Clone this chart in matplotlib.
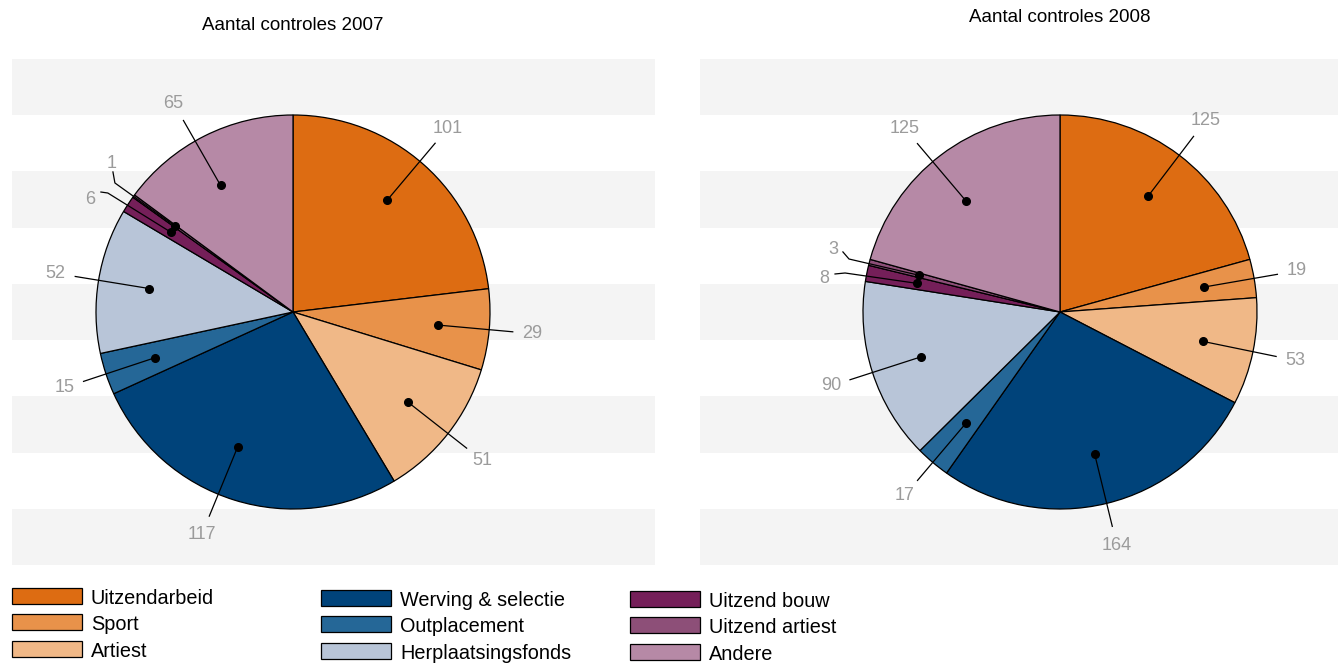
import numpy as np
import matplotlib.pyplot as plt
from matplotlib.patches import Rectangle

plt.rcParams['font.family'] = ['Liberation Sans', 'DejaVu Sans']

# data
categories = ['Uitzendarbeid', 'Sport', 'Artiest',
              'Werving & selectie', 'Outplacement', 'Herplaatsingsfonds',
              'Uitzend bouw', 'Uitzend artiest', 'Andere']
colors = ['#dd6c12', '#e8924a', '#f0b887',
          '#00437a', '#256797', '#b8c5d8',
          '#751f59', '#8d4f78', '#b689a6']
counts_2007 = [101, 29, 51, 117, 15, 52, 6, 1, 65]
counts_2008 = [125, 19, 53, 164, 17, 90, 8, 3, 125]
titles = ['Aantal controles 2007', 'Aantal controles 2008']

# label layout for the thin slices: index -> (elbow, stub end, text) in radius units
bent_2007 = {6: ((-0.940, 0.604), (-0.975, 0.609), (-1.03, 0.57)),
             7: ((-0.904, 0.655), (-0.914, 0.711), (-0.919, 0.756))}
bent_2008 = {6: ((-1.091, 0.198), (-1.142, 0.193), (-1.198, 0.168)),
             7: ((-1.071, 0.269), (-1.102, 0.305), (-1.152, 0.315))}
# small rotations (degrees) of some leader lines
turn_2007 = {0: 1.5, 3: -5, 8: 3}
turn_2008 = {8: 3}

W, H = 1338, 664
R = 197.0  # pie radius in pixels
label_grey = '#9b9b9b'

fig = plt.figure(figsize=(W / 100, H / 100), dpi=100)

# full-figure overlay for titles and legend, in pixel coords
lax = fig.add_axes([0, 0, 1, 1])
lax.set_xlim(0, W)
lax.set_ylim(H, 0)
lax.axis('off')


def draw_pie(counts, bent, turn, panel, center, title, title_y):
    x0, x1, y0, y1 = panel
    cx, cy = center
    ax = fig.add_axes([x0 / W, 1 - y1 / H, (x1 - x0) / W, (y1 - y0) / H])
    wedges, _ = ax.pie(counts, colors=colors, startangle=90, counterclock=False,
                       radius=1.0,
                       wedgeprops=dict(edgecolor='black', linewidth=0.9))
    ax.set_aspect('auto')
    ax.set_xlim((x0 - cx) / R, (x1 - cx) / R)
    ax.set_ylim((cy - y1) / R, (cy - y0) / R)
    ax.axis('off')

    # striped background
    ylo, yhi = ax.get_ylim()
    edges = np.linspace(yhi, ylo, 10)
    for k in range(0, 9, 2):
        ax.axhspan(edges[k + 1], edges[k], color='#f4f4f4', zorder=-5, lw=0)

    for i, w in enumerate(wedges):
        mid = np.deg2rad((w.theta1 + w.theta2) / 2 + turn.get(i, 0))
        c, s = np.cos(mid), np.sin(mid)
        dot = (0.74 * c, 0.74 * s)
        if i in bent:
            elbow, stub, tpos = bent[i]
            xs = [dot[0], elbow[0], stub[0]]
            ys = [dot[1], elbow[1], stub[1]]
        else:
            tpos = (1.22 * c, 1.22 * s)
            xs = [dot[0], 1.12 * c]
            ys = [dot[1], 1.12 * s]
        ax.plot(xs, ys, color='black', lw=0.9, zorder=5, clip_on=False)
        ax.plot(*dot, 'o', color='black', ms=5.5, zorder=6, clip_on=False)
        ax.text(tpos[0], tpos[1], str(counts[i]), color=label_grey, fontsize=13,
                ha='center', va='center', zorder=6)

    lax.text(cx, title_y, title, fontsize=13.5, ha='center', va='center')


draw_pie(counts_2007, bent_2007, turn_2007, (12, 655, 59, 565), (293, 312), titles[0], 25)
draw_pie(counts_2008, bent_2008, turn_2008, (700, 1338, 59, 565), (1060, 312), titles[1], 18)

# legend, three columns
col_x = [12, 321, 630]
col_top = [588, 590, 591]
for i, (name, col) in enumerate(zip(categories, colors)):
    c, r = divmod(i, 3)
    top = col_top[c] + r * 26.3
    lax.add_patch(Rectangle((col_x[c], top), 70, 16, facecolor=col,
                            edgecolor='black', lw=0.9))
    lax.text(col_x[c] + 79, top + 10.5, name, fontsize=14.3, ha='left', va='center')

fig.savefig('out.png', dpi=100)
